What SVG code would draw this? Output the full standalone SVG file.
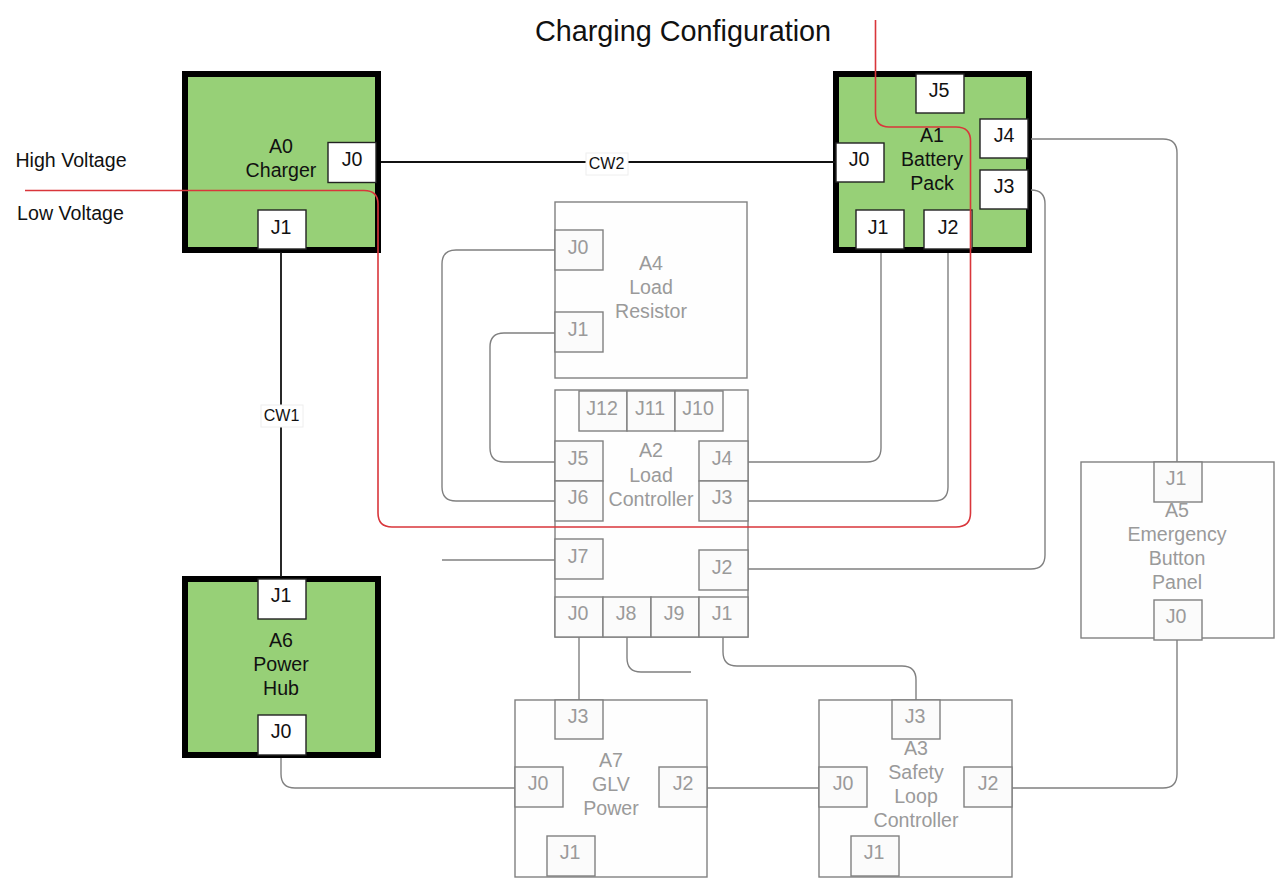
<svg xmlns="http://www.w3.org/2000/svg" width="1283" height="888" viewBox="0 0 1283 888">
<style>
text{font-family:"Liberation Sans",Arial,sans-serif;font-size:19.6px;text-anchor:middle}
.on{fill:#97d077;stroke:#000;stroke-width:6}
.off{fill:#fefefe;stroke:#808080;stroke-width:1.4}
.pon{fill:#fff;stroke:#222;stroke-width:1.4}
.poff{fill:#fbfbfb;stroke:#808080;stroke-width:1.4}
.ton{fill:#111}
.toff{fill:#9a9a9a}
.w{fill:none;stroke:#808080;stroke-width:1.4}
.k{fill:none;stroke:#111;stroke-width:1.8}
.r{fill:none;stroke:#d9363b;stroke-width:1.6}
.lb{fill:#fff;stroke:#eee;stroke-width:1}
</style>
<rect width="1283" height="888" fill="#fff"/>
<text x="683" y="41" style="font-size:28.8px" fill="#111">Charging Configuration</text>
<text x="71" y="167" class="ton">High Voltage</text>
<text x="70.500" y="220" class="ton">Low Voltage</text>

<g id="A0"><rect class="on" x="185" y="74" width="193" height="176"/>
<text class="ton" x="281" y="153">A0</text><text class="ton" x="281" y="177">Charger</text>
<rect class="pon" x="328" y="142.500" width="48" height="40"/><text class="ton" x="352" y="166">J0</text>
<rect class="pon" x="258" y="210" width="48" height="39"/><text class="ton" x="281" y="234">J1</text></g>

<g id="A1"><rect class="on" x="836" y="74" width="193" height="176"/>
<text class="ton" x="932" y="142">A1</text><text class="ton" x="932" y="166">Battery</text><text class="ton" x="932" y="190">Pack</text>
<rect class="pon" x="916" y="74" width="48" height="39"/><text class="ton" x="939" y="97">J5</text>
<rect class="pon" x="980" y="119" width="48" height="39"/><text class="ton" x="1004" y="142">J4</text>
<rect class="pon" x="980" y="170" width="48" height="39"/><text class="ton" x="1004" y="193">J3</text>
<rect class="pon" x="836" y="143" width="48" height="39"/><text class="ton" x="859" y="166">J0</text>
<rect class="pon" x="856" y="210" width="48" height="39"/><text class="ton" x="878" y="234">J1</text>
<rect class="pon" x="924" y="210" width="48" height="39"/><text class="ton" x="948" y="234">J2</text></g>

<g id="A4"><rect class="off" x="555" y="202" width="192" height="176"/>
<text class="toff" x="651" y="270">A4</text><text class="toff" x="651" y="294">Load</text><text class="toff" x="651" y="318">Resistor</text>
<rect class="poff" x="555" y="230" width="48" height="40"/><text class="toff" x="578" y="254">J0</text>
<rect class="poff" x="555" y="312" width="48" height="40"/><text class="toff" x="578" y="336">J1</text></g>

<g id="A2"><rect class="off" x="555" y="390" width="193" height="247"/>
<text class="toff" x="651" y="457">A2</text><text class="toff" x="651" y="482">Load</text><text class="toff" x="651" y="506">Controller</text>
<rect class="poff" x="579" y="391" width="48" height="40"/><text class="toff" x="602" y="415">J12</text>
<rect class="poff" x="627" y="391" width="48" height="40"/><text class="toff" x="650" y="415">J11</text>
<rect class="poff" x="675" y="391" width="48" height="40"/><text class="toff" x="698" y="415">J10</text>
<rect class="poff" x="555" y="441" width="48" height="40"/><text class="toff" x="578" y="465">J5</text>
<rect class="poff" x="555" y="481" width="48" height="40"/><text class="toff" x="578" y="504">J6</text>
<rect class="poff" x="555" y="539" width="48" height="40"/><text class="toff" x="578" y="563">J7</text>
<rect class="poff" x="699" y="441" width="49" height="40"/><text class="toff" x="722" y="465">J4</text>
<rect class="poff" x="699" y="481" width="49" height="40"/><text class="toff" x="722" y="504">J3</text>
<rect class="poff" x="699" y="550" width="49" height="40"/><text class="toff" x="722" y="574">J2</text>
<rect class="poff" x="555" y="597" width="48" height="40"/><text class="toff" x="578" y="620">J0</text>
<rect class="poff" x="603" y="597" width="48" height="40"/><text class="toff" x="626" y="620">J8</text>
<rect class="poff" x="651" y="597" width="48" height="40"/><text class="toff" x="674" y="620">J9</text>
<rect class="poff" x="699" y="597" width="49" height="40"/><text class="toff" x="722" y="620">J1</text></g>

<g id="A5"><rect class="off" x="1081" y="462" width="193" height="176"/>
<text class="toff" x="1177" y="517">A5</text><text class="toff" x="1177" y="541">Emergency</text><text class="toff" x="1177" y="565">Button</text><text class="toff" x="1177" y="589">Panel</text>
<rect class="poff" x="1154" y="462" width="48" height="40"/><text class="toff" x="1176" y="485">J1</text>
<rect class="poff" x="1154" y="600" width="48" height="40"/><text class="toff" x="1176" y="623">J0</text></g>

<g id="A6"><rect class="on" x="185" y="579" width="193" height="176"/>
<text class="ton" x="281" y="647">A6</text><text class="ton" x="281" y="671">Power</text><text class="ton" x="281" y="695">Hub</text>
<rect class="pon" x="258" y="579" width="48" height="40"/><text class="ton" x="281" y="602">J1</text>
<rect class="pon" x="258" y="715" width="48" height="40"/><text class="ton" x="281" y="738">J0</text></g>

<g id="A7"><rect class="off" x="515" y="700" width="192" height="177"/>
<text class="toff" x="611" y="767">A7</text><text class="toff" x="611" y="791">GLV</text><text class="toff" x="611" y="815">Power</text>
<rect class="poff" x="555" y="700" width="48" height="39"/><text class="toff" x="578" y="723">J3</text>
<rect class="poff" x="515" y="767" width="48" height="40"/><text class="toff" x="538" y="790">J0</text>
<rect class="poff" x="659" y="767" width="48" height="40"/><text class="toff" x="683" y="790">J2</text>
<rect class="poff" x="547" y="836" width="48" height="40"/><text class="toff" x="570" y="859">J1</text></g>

<g id="A3"><rect class="off" x="819" y="700" width="193" height="177"/>
<text class="toff" x="916" y="755">A3</text><text class="toff" x="916" y="779">Safety</text><text class="toff" x="916" y="803">Loop</text><text class="toff" x="916" y="827">Controller</text>
<rect class="poff" x="892" y="700" width="48" height="39"/><text class="toff" x="915" y="723">J3</text>
<rect class="poff" x="819" y="767" width="48" height="40"/><text class="toff" x="843" y="790">J0</text>
<rect class="poff" x="964" y="767" width="48" height="40"/><text class="toff" x="988" y="790">J2</text>
<rect class="poff" x="851" y="836" width="48" height="40"/><text class="toff" x="874" y="859">J1</text></g>

<g id="connectors">
<path class="w" d="M555 250H456Q442 250 442 264V487Q442 501 456 501H555"/>
<path class="w" d="M555 333H504Q490 333 490 347V448Q490 462 504 462H555"/>
<path class="w" d="M442 560H555"/>
<path class="w" d="M748 462H867Q881 462 881 448V253"/>
<path class="w" d="M748 501H934Q948 501 948 487V253"/>
<path class="w" d="M748 569H1031Q1045 569 1045 555V204Q1045 190 1031 190"/>
<path class="w" d="M1031 139H1163Q1177 139 1177 153V462"/>
<path class="w" d="M579 637V700"/>
<path class="w" d="M627 637V658Q627 672 641 672H691"/>
<path class="w" d="M723 637V652Q723 666 737 666H902Q916 666 916 680V700"/>
<path class="w" d="M281 758V774Q281 788 295 788H515"/>
<path class="w" d="M707 788H819"/>
<path class="w" d="M1012 788H1163Q1177 788 1177 774V640"/>
<path class="k" d="M281 252V577"/>
<rect class="lb" x="261" y="405" width="42" height="22"/><text class="ton" x="281.500" y="421" style="font-size:16px">CW1</text>
<path class="k" d="M381 162H835"/>
<rect class="lb" x="586" y="153" width="42" height="22"/><text class="ton" x="606.500" y="169" style="font-size:16px">CW2</text>
<path class="r" d="M25 190.500H364Q378 190.500 378 204V513Q378 527 392 527H956Q970.500 527 970.500 513V141Q970.500 127 956 127H889Q875.500 127 875.500 113V20"/>
</g>
</svg>
